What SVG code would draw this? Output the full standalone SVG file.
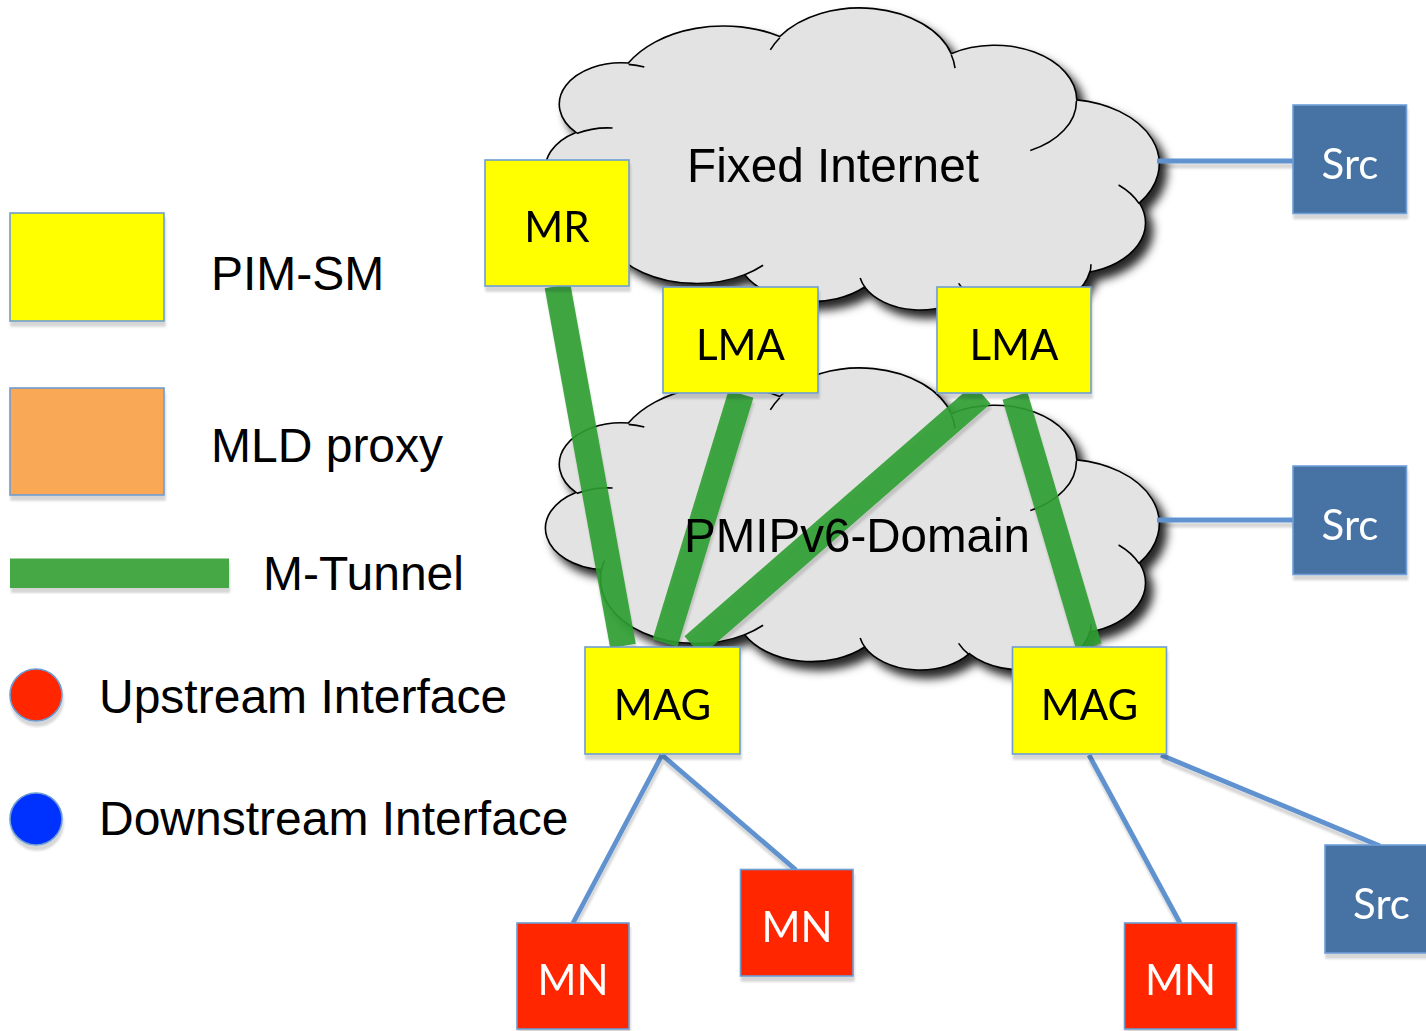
<svg xmlns="http://www.w3.org/2000/svg" width="1426" height="1031" viewBox="0 0 1426 1031">
<style>
  .lbl { font-family: "Liberation Sans", Arial, sans-serif; fill: #000; }
  .leg { font-size: 48px; }
  .cl { font-size: 49px; }
  .nt { font-family: Lato, "Liberation Sans", sans-serif; font-size: 42px; text-anchor: middle; }
  .blk { fill: #000; }
  .wht { fill: #fff; }
  .pim { fill: #ffff00; stroke: #6d9dd3; stroke-width: 1.6; }
  .mld { fill: #f9a857; stroke: #6d9dd3; stroke-width: 1.6; }
  .mn { fill: #ff2600; stroke: #6d9dd3; stroke-width: 1.6; }
  .src { fill: #4672a4; stroke: #6f9fd8; stroke-width: 1.6; }
  .cfill { fill: #e3e3e3; stroke: #000; stroke-width: 1.6; }
  .cin { fill: none; stroke: #000; stroke-width: 1.6; }
  .conn { stroke: #5f92cf; stroke-width: 4.8; fill: none; }
  .tun { stroke: #2f9e30; stroke-opacity: 0.9; stroke-width: 26; fill: none; stroke-linecap: butt; }
</style>
<defs>
  <filter id="cshadow" x="-5%" y="-5%" width="115%" height="120%">
    <feDropShadow dx="7" dy="8" stdDeviation="5" flood-color="#000" flood-opacity="0.85"/>
  </filter>
  <filter id="lshadow" x="-10%" y="-10%" width="125%" height="130%">
    <feDropShadow dx="1" dy="5" stdDeviation="0.8" flood-color="#000" flood-opacity="0.16"/>
  </filter>
  <path id="cloudOut" d="M55.34 201.54 A95.83 64.24 0 0 0 198.74 265.63 A75.67 50.80 0 0 0 318.65 277.99 A61.94 41.56 0 0 0 423.32 284.65 A68.92 46.10 0 0 0 543.72 263.01 A75.67 50.84 0 0 0 593.39 193.92 A96.14 64.45 0 0 0 530.75 90.85 A82.09 55.00 0 0 0 405.19 44.64 A95.81 64.42 0 0 0 233.84 27.51 A109.55 73.70 0 0 0 82.35 54.04 A61.87 41.37 0 0 0 29.97 123.39 A61.66 41.56 0 0 0 54.80 200.60 Z"/>
  <path id="cloudIn" d="M66.59 119.01 A61.66 41.56 0 0 0 30.65 124.58 M98.31 58.03 A61.87 41.37 0 0 0 82.58 55.37 M233.82 28.73 A95.81 64.42 0 0 0 224.35 40.90 M409.06 59.07 A95.81 64.42 0 0 0 405.27 45.72 M484.29 141.54 A82.09 55.00 0 0 0 530.42 91.65 M593.11 194.66 A75.67 50.84 0 0 0 572.57 175.96 M543.81 264.07 A68.92 46.10 0 0 0 544.90 255.23 M412.62 274.37 A68.92 46.10 0 0 0 423.15 285.65 M314.18 269.00 A61.94 41.56 0 0 0 319.27 278.72 M198.66 265.70 A95.83 64.24 0 0 0 217.10 256.28 M58.56 191.62 A95.83 64.24 0 0 0 55.34 201.54"/>
</defs>

<rect width="1426" height="1031" fill="#fff"/>

<!-- Legend -->
<g id="legend">
  <g id="leg-pim" filter="url(#lshadow)"><rect class="pim" x="10" y="213" width="154" height="108"/></g>
  <text class="lbl leg" x="211" y="290">PIM-SM</text>
  <g id="leg-mld" filter="url(#lshadow)"><rect class="mld" x="10" y="388" width="154" height="107"/></g>
  <text class="lbl leg" x="211" y="462">MLD proxy</text>
  <g id="leg-tun" filter="url(#lshadow)"><rect x="10" y="558.5" width="219" height="29.5" fill="#44a845"/></g>
  <text class="lbl leg" x="263" y="590">M-Tunnel</text>
  <g id="leg-up" filter="url(#lshadow)"><circle cx="36" cy="695" r="26" fill="#ff2600" stroke="#6d9dd3" stroke-width="1.6"/></g>
  <text class="lbl leg" x="99" y="713">Upstream Interface</text>
  <g id="leg-down" filter="url(#lshadow)"><circle cx="36" cy="819" r="26" fill="#0433ff" stroke="#6d9dd3" stroke-width="1.6"/></g>
  <text class="lbl leg" x="99" y="835">Downstream Interface</text>
</g>

<!-- Clouds -->
<g id="cloud-fixed">
  <g transform="translate(546,9)">
    <use href="#cloudOut" class="cfill" filter="url(#cshadow)"/>
    <use href="#cloudIn" class="cin"/>
  </g>
  <text class="lbl cl" x="687" y="182" textLength="292" lengthAdjust="spacingAndGlyphs">Fixed Internet</text>
</g>
<g id="cloud-pmip">
  <g transform="translate(546,369)">
    <use href="#cloudOut" class="cfill" filter="url(#cshadow)"/>
    <use href="#cloudIn" class="cin"/>
  </g>
</g>

<!-- Connectors -->
<g id="connectors">
  <g filter="url(#lshadow)">
    <line class="conn" x1="1157" y1="161" x2="1293" y2="161"/>
    <line class="conn" x1="1157" y1="520" x2="1293" y2="520"/>
    <line class="conn" x1="662" y1="755" x2="573" y2="923"/>
    <line class="conn" x1="662" y1="755" x2="796" y2="870"/>
    <line class="conn" x1="1089" y1="755" x2="1180" y2="923"/>
    <line class="conn" x1="1161" y1="755" x2="1380" y2="846"/>
  </g>
  <g id="tunnels" filter="url(#lshadow)">
    <line class="tun" x1="557.5" y1="286" x2="623" y2="646"/>
    <line class="tun" x1="741" y1="394" x2="665" y2="643"/>
    <line class="tun" x1="982" y1="394" x2="693" y2="646"/>
    <line class="tun" x1="1015" y1="396" x2="1089" y2="647"/>
  </g>
</g>

<text id="cloud-pmip-label" class="lbl cl" x="684" y="552" textLength="346" lengthAdjust="spacingAndGlyphs">PMIPv6-Domain</text>

<!-- Nodes -->
<g id="n-mr" filter="url(#lshadow)"><rect class="pim" x="485" y="160" width="144" height="126"/><text class="nt blk" x="557" y="242">MR</text></g>
<g id="n-lma1" filter="url(#lshadow)"><rect class="pim" x="663" y="287" width="155" height="106"/><text class="nt blk" x="740.5" y="359.5">LMA</text></g>
<g id="n-lma2" filter="url(#lshadow)"><rect class="pim" x="937" y="287" width="154" height="106"/><text class="nt blk" x="1014" y="359.5">LMA</text></g>
<g id="n-mag1" filter="url(#lshadow)"><rect class="pim" x="585" y="647" width="155" height="107"/><text class="nt blk" x="662.5" y="720">MAG</text></g>
<g id="n-mag2" filter="url(#lshadow)"><rect class="pim" x="1012.5" y="647" width="154" height="107"/><text class="nt blk" x="1089.5" y="720">MAG</text></g>
<g id="n-mn1" filter="url(#lshadow)"><rect class="mn" x="517" y="923" width="112" height="106"/><text class="nt wht" x="573" y="995">MN</text></g>
<g id="n-mn2" filter="url(#lshadow)"><rect class="mn" x="740.5" y="869.5" width="112.5" height="106.5"/><text class="nt wht" x="797" y="942">MN</text></g>
<g id="n-mn3" filter="url(#lshadow)"><rect class="mn" x="1124.5" y="923" width="112" height="106"/><text class="nt wht" x="1180.5" y="995">MN</text></g>
<g id="n-src1" filter="url(#lshadow)"><rect class="src" x="1293" y="105" width="113.5" height="108.5"/><text class="nt wht" x="1350" y="178.5">Src</text></g>
<g id="n-src2" filter="url(#lshadow)"><rect class="src" x="1293" y="466" width="113.5" height="108.5"/><text class="nt wht" x="1350" y="540">Src</text></g>
<g id="n-src3" filter="url(#lshadow)"><rect class="src" x="1325" y="845" width="113" height="108"/><text class="nt wht" x="1381.5" y="918.5">Src</text></g>
</svg>
